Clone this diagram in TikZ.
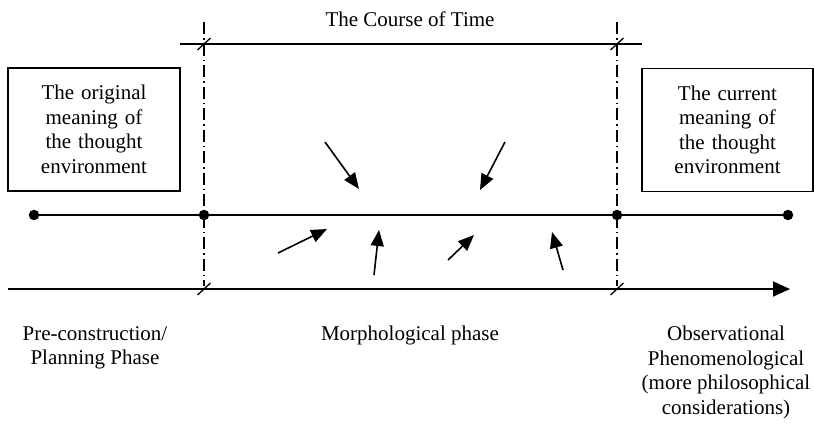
\documentclass[tikz,border=0pt]{standalone}
\usepackage{fontspec}
\setmainfont{Liberation Serif}
\usetikzlibrary{arrows.meta}
\begin{document}
\begin{tikzpicture}[x=1pt,y=-1pt,
  txt/.style={font=\fontsize{21}{24.5}\selectfont, align=center, inner sep=0pt},
  boxnode/.style={draw, line width=1.6pt, minimum width=#1, minimum height=123pt, inner sep=0pt},
  mainline/.style={line width=1.9pt},
  dashdot/.style={line width=1.1pt, dash pattern=on 12pt off 4pt on 1.5pt off 4pt},
  slash/.style={line width=1.3pt},
  dot/.style={circle, fill=black, inner sep=0pt, minimum size=10.5pt},
  smallarrow/.style={line width=1.6pt, -{Triangle[length=16pt,width=13pt]}},
  bigarrow/.style={mainline, -{Triangle[length=17pt,width=15pt]}}]
\useasboundingbox (0,0) rectangle (814,424);
% boxes
\node[boxnode=172pt, txt, text width=172pt] (lbox) at (94,129.5) {The original\\meaning of\\the thought\\environment};
\node[boxnode=171pt, txt, text width=171pt] (rbox) at (727.5,130) {The current\\meaning of\\the thought\\environment};
% title
\node[txt] (title) at (410,19) {The Course of Time};
% top line
\coordinate (tl) at (180,44);
\coordinate (tr) at (642,44);
\draw[mainline] (tl) -- (tr);
% vertical dash-dot lines
\coordinate (v1t) at (204,22);
\coordinate (v1b) at (204,286);
\coordinate (v2t) at (617,22);
\coordinate (v2b) at (617,286);
\draw[dashdot] (v1t) -- (v1b);
\draw[dashdot] (v2t) -- (v2b);
% middle line with dots
\node[dot] (d1) at (34,215) {};
\node[dot] (d2) at (204,215) {};
\node[dot] (d3) at (617,215) {};
\node[dot] (d4) at (788,215) {};
\draw[mainline] (d1.center) -- (d4.center);
% bottom arrow
\coordinate (bl) at (8,289);
\coordinate (br) at (790,289);
\draw[bigarrow] (bl) -- (br);
% slashes
\foreach \x/\y/\n in {204/44/a,617/44/b,204/289/c,617/289/d}{
  \coordinate (s\n1) at (\x-6.5,\y+6);
  \coordinate (s\n2) at (\x+6.5,\y-6);
  \draw[slash] (s\n1) -- (s\n2);
}
% small arrows
\coordinate (a1s) at (325,142); \coordinate (a1e) at (359,189);
\coordinate (a2s) at (505,142); \coordinate (a2e) at (480,190);
\coordinate (a3s) at (278,253); \coordinate (a3e) at (327,229);
\coordinate (a4s) at (374,275); \coordinate (a4e) at (379,230);
\coordinate (a5s) at (448,260); \coordinate (a5e) at (474,235);
\coordinate (a6s) at (563,270); \coordinate (a6e) at (552,232);
\foreach \i in {1,...,6}{\draw[smallarrow] (a\i s) -- (a\i e);}
% labels
\node[txt, anchor=north] (lab1) at (95,326) {Pre-construction/\\Planning Phase};
\node[txt, anchor=north] (lab2) at (410,326) {Morphological phase};
\node[txt, anchor=north] (lab3) at (726,326) {Observational\\Phenomenological\\(more philosophical\\considerations)};
\end{tikzpicture}
\end{document}
